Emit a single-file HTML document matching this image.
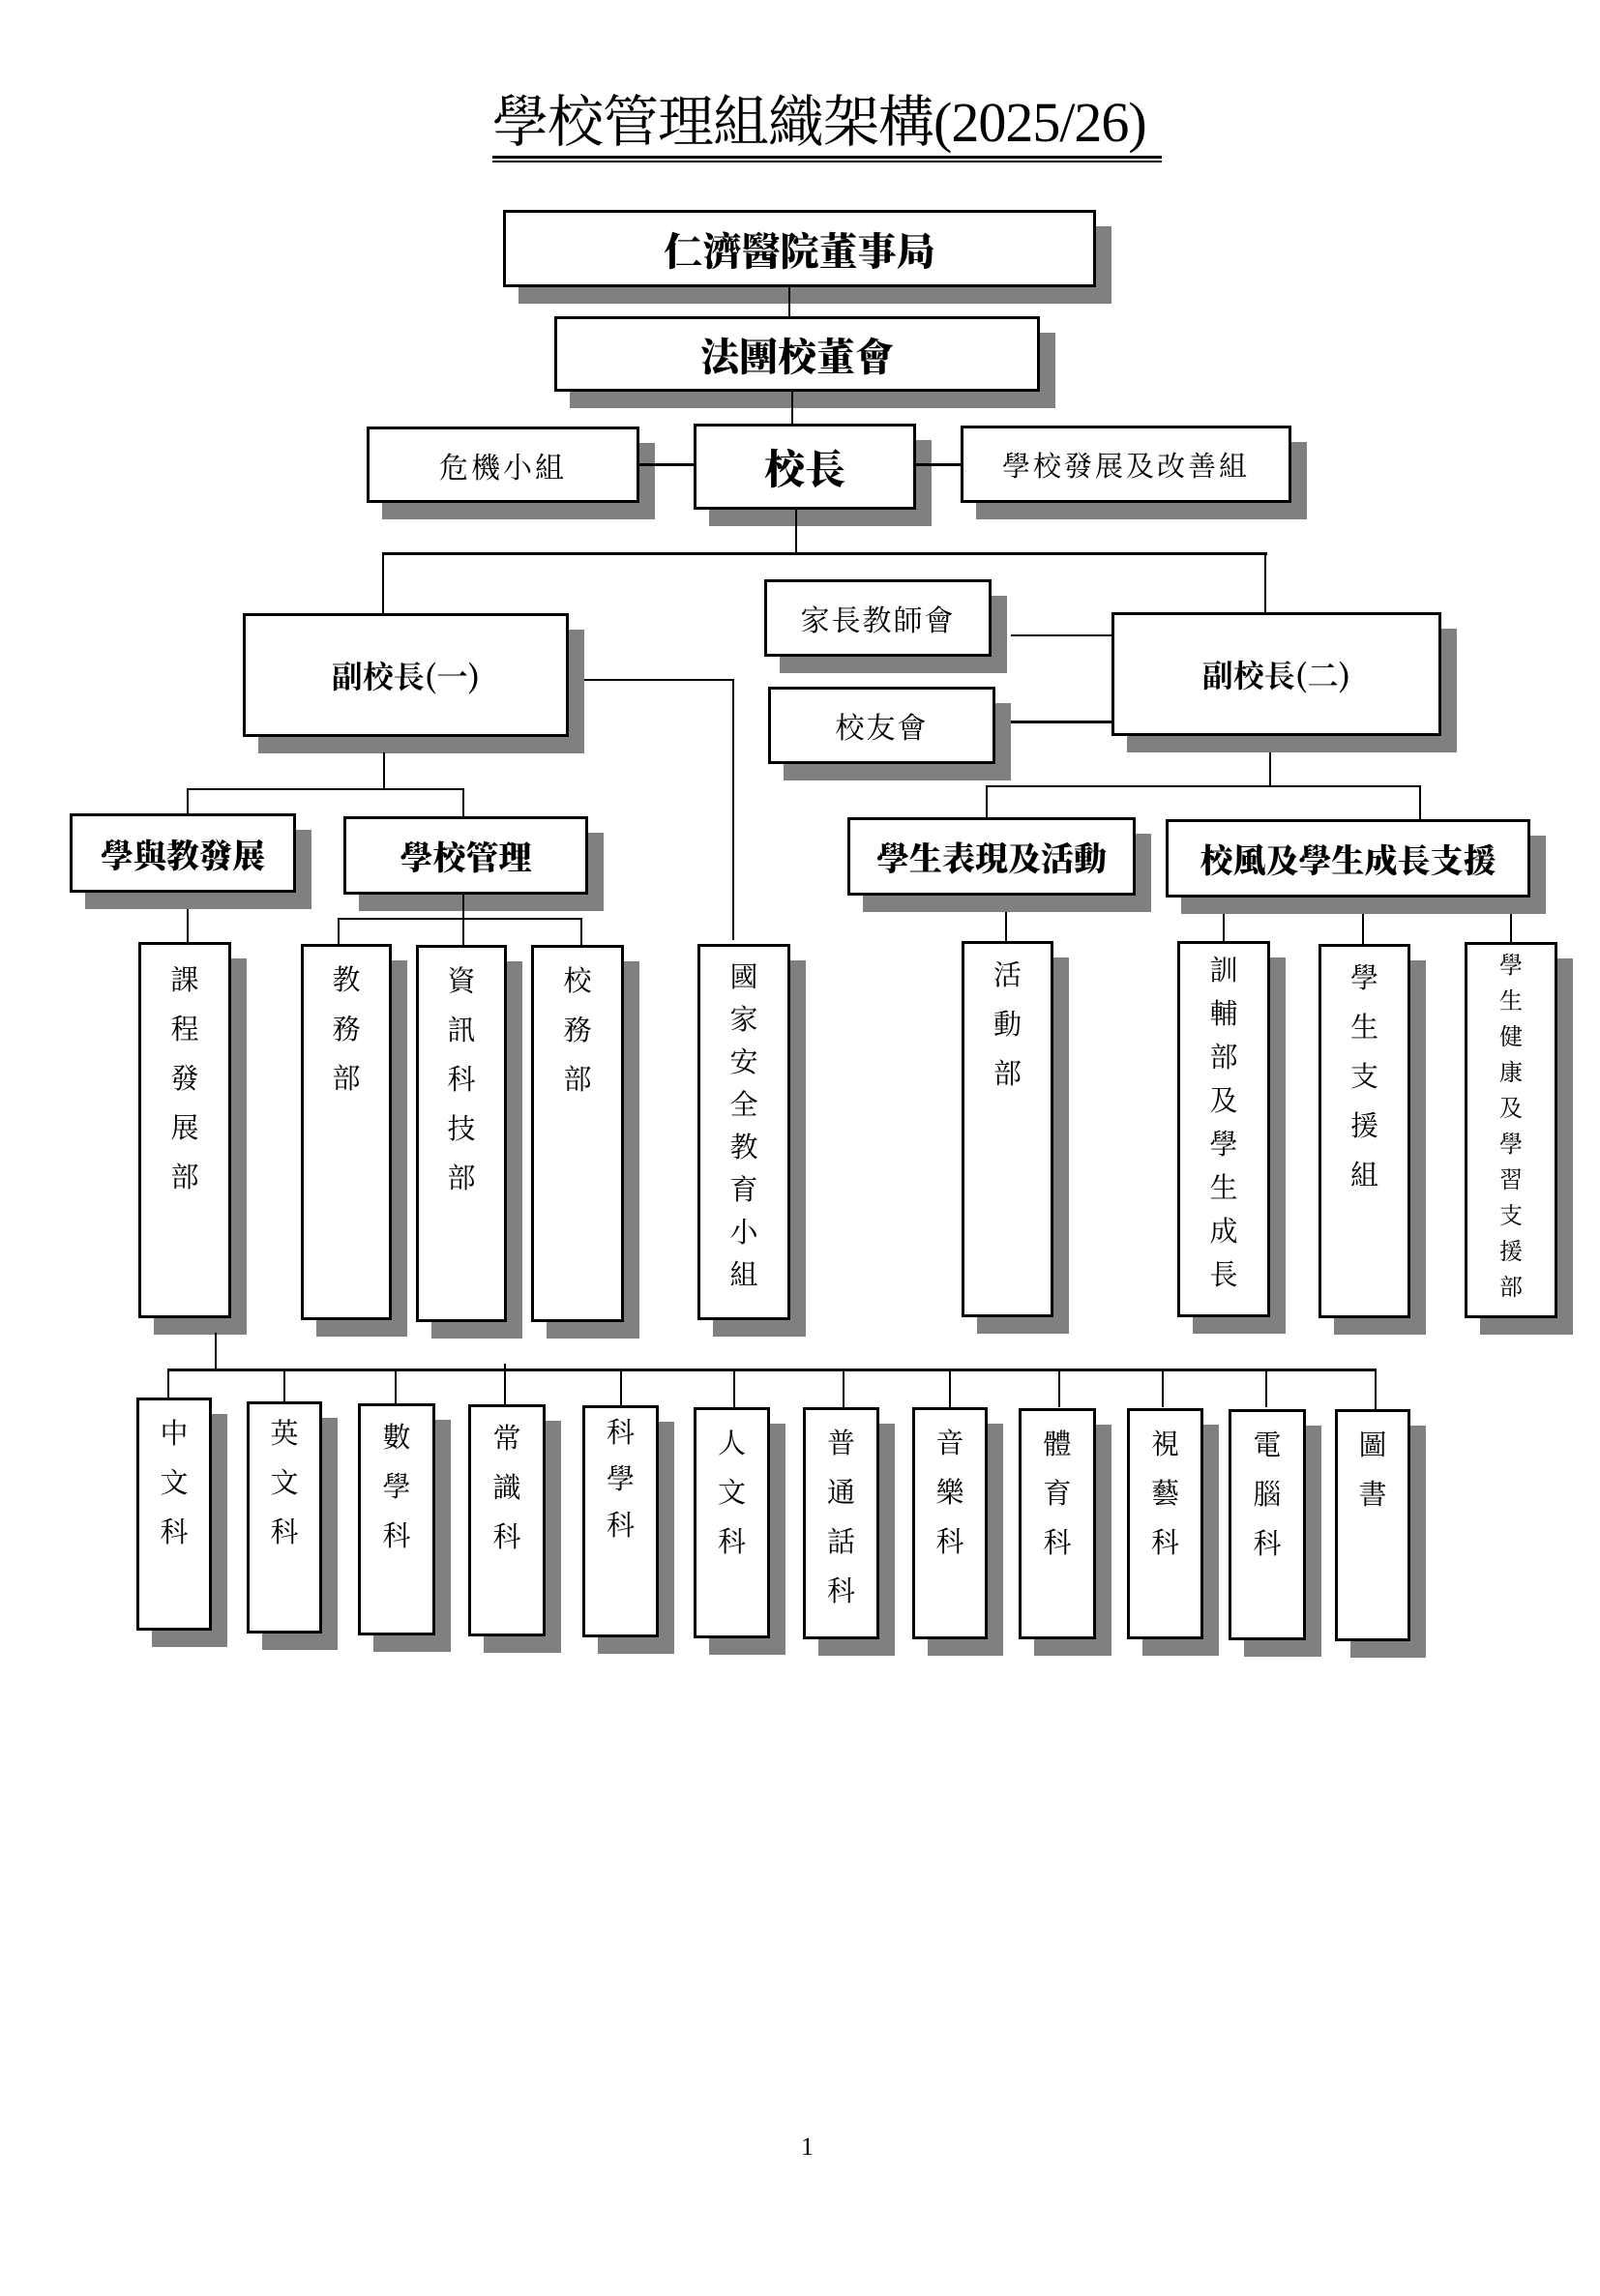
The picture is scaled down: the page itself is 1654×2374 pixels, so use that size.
<!DOCTYPE html>
<html><head><meta charset="utf-8"><style>
body{margin:0;background:#fff}
#p{position:relative;width:1654px;height:2374px;overflow:hidden;background:#fff;font-family:"Liberation Serif","Noto Serif CJK SC",serif}
.b{position:absolute;box-sizing:border-box;border:3px solid #000;background:#fff;box-shadow:16px 17px 0 #808080;display:flex;align-items:center;justify-content:center;color:#000;white-space:nowrap}
.h{font-weight:900;font-family:"Noto Serif CJK SC","Noto Sans CJK TC",serif}
.v{flex-direction:column;justify-content:flex-start;font-size:29px}
.v span{display:block;text-align:center}
.l{position:absolute;background:#000}
</style></head><body><div id="p">
<div style="position:absolute;left:509px;top:92px;font-size:58px;line-height:70px;font-family:'Liberation Serif','Noto Serif CJK SC',serif;letter-spacing:-1px">學校管理組織架構(2025/26)</div>
<div class="l" style="left:509px;top:161px;width:692px;height:3px"></div>
<div class="l" style="left:509px;top:166px;width:692px;height:2px"></div>

<div class="b h" style="left:520px;top:217px;width:613px;height:80px;font-size:40px">仁濟醫院董事局</div>
<div class="l" style="left:815px;top:297px;width:2px;height:30px"></div>
<div class="b h" style="left:573px;top:327px;width:502px;height:78px;font-size:40px">法團校董會</div>
<div class="l" style="left:818px;top:405px;width:2px;height:34px"></div>

<div class="b" style="left:379px;top:441px;width:282px;height:79px;font-size:30px;letter-spacing:3px">危機小組</div>
<div class="b h" style="left:717px;top:438px;width:230px;height:89px;font-size:42px">校長</div>
<div class="b" style="left:993px;top:440px;width:342px;height:80px;font-size:29px;letter-spacing:3px">學校發展及改善組</div>
<div class="l" style="left:661px;top:479px;width:56px;height:3px"></div>
<div class="l" style="left:947px;top:479px;width:46px;height:3px"></div>

<div class="l" style="left:822px;top:527px;width:2px;height:46px"></div>
<div class="l" style="left:396px;top:571px;width:914px;height:3px"></div>
<div class="l" style="left:395px;top:571px;width:2px;height:63px"></div>
<div class="l" style="left:1307px;top:571px;width:2px;height:62px"></div>

<div class="b h" style="left:251px;top:634px;width:337px;height:128px;font-size:32px;font-weight:700">副校長(一)</div>
<div class="l" style="left:604px;top:702px;width:154px;height:2px"></div>
<div class="l" style="left:757px;top:702px;width:2px;height:270px"></div>

<div class="b" style="left:790px;top:599px;width:235px;height:80px;font-size:30px;letter-spacing:2px">家長教師會</div>
<div class="b" style="left:794px;top:710px;width:235px;height:80px;font-size:30px;letter-spacing:2px">校友會</div>
<div class="b h" style="left:1149px;top:633px;width:341px;height:128px;font-size:32px;font-weight:700">副校長(二)</div>
<div class="l" style="left:1045px;top:656px;width:104px;height:2px"></div>
<div class="l" style="left:1045px;top:745px;width:104px;height:3px"></div>

<div class="l" style="left:396px;top:778px;width:2px;height:38px"></div>
<div class="l" style="left:193px;top:815px;width:286px;height:2px"></div>
<div class="l" style="left:193px;top:815px;width:2px;height:26px"></div>
<div class="l" style="left:478px;top:815px;width:2px;height:29px"></div>
<div class="l" style="left:1312px;top:778px;width:2px;height:35px"></div>
<div class="l" style="left:1019px;top:812px;width:450px;height:2px"></div>
<div class="l" style="left:1019px;top:812px;width:2px;height:33px"></div>
<div class="l" style="left:1467px;top:812px;width:2px;height:35px"></div>

<div class="b h" style="left:72px;top:841px;width:234px;height:82px;font-size:34px">學與教發展</div>
<div class="b h" style="left:355px;top:844px;width:253px;height:81px;font-size:34px">學校管理</div>
<div class="b h" style="left:876px;top:845px;width:298px;height:81px;font-size:34px">學生表現及活動</div>
<div class="b h" style="left:1205px;top:847px;width:377px;height:81px;font-size:34px">校風及學生成長支援</div>

<div class="l" style="left:193px;top:940px;width:2px;height:34px"></div>
<div class="l" style="left:478px;top:925px;width:2px;height:52px"></div>
<div class="l" style="left:349px;top:949px;width:253px;height:2px"></div>
<div class="l" style="left:349px;top:949px;width:2px;height:27px"></div>
<div class="l" style="left:600px;top:949px;width:2px;height:28px"></div>
<div class="l" style="left:1039px;top:943px;width:2px;height:30px"></div>
<div class="l" style="left:1264px;top:945px;width:2px;height:28px"></div>
<div class="l" style="left:1408px;top:945px;width:2px;height:31px"></div>
<div class="l" style="left:1561px;top:945px;width:2px;height:31px"></div>

<div class="b v" style="left:143px;top:974px;width:96px;height:389px;padding-top:12px;line-height:51px"><span>課</span><span>程</span><span>發</span><span>展</span><span>部</span></div>
<div class="b v" style="left:311px;top:976px;width:94px;height:389px;padding-top:10px;line-height:51px"><span>教</span><span>務</span><span>部</span></div>
<div class="b v" style="left:430px;top:977px;width:94px;height:390px;padding-top:10px;line-height:51px"><span>資</span><span>訊</span><span>科</span><span>技</span><span>部</span></div>
<div class="b v" style="left:549px;top:977px;width:96px;height:390px;padding-top:10px;line-height:51px"><span>校</span><span>務</span><span>部</span></div>
<div class="b v" style="left:721px;top:976px;width:96px;height:389px;padding-top:10px;line-height:44px"><span>國</span><span>家</span><span>安</span><span>全</span><span>教</span><span>育</span><span>小</span><span>組</span></div>
<div class="b v" style="left:994px;top:973px;width:95px;height:389px;padding-top:8px;line-height:51px"><span>活</span><span>動</span><span>部</span></div>
<div class="b v" style="left:1217px;top:973px;width:96px;height:389px;padding-top:6px;line-height:45px"><span>訓</span><span>輔</span><span>部</span><span>及</span><span>學</span><span>生</span><span>成</span><span>長</span></div>
<div class="b v" style="left:1363px;top:976px;width:95px;height:387px;padding-top:8px;line-height:51px"><span>學</span><span>生</span><span>支</span><span>援</span><span>組</span></div>
<div class="b v" style="left:1514px;top:974px;width:96px;height:389px;padding-top:4px;line-height:37px;font-size:24px"><span>學</span><span>生</span><span>健</span><span>康</span><span>及</span><span>學</span><span>習</span><span>支</span><span>援</span><span>部</span></div>

<div class="l" style="left:222px;top:1378px;width:2px;height:39px"></div>
<div class="l" style="left:174px;top:1415px;width:1249px;height:3px"></div>
<div class="l" style="left:173px;top:1415px;width:2px;height:30px"></div>
<div class="l" style="left:293px;top:1415px;width:2px;height:34px"></div>
<div class="l" style="left:408px;top:1415px;width:2px;height:36px"></div>
<div class="l" style="left:521px;top:1410px;width:2px;height:42px"></div>
<div class="l" style="left:641px;top:1415px;width:2px;height:38px"></div>
<div class="l" style="left:758px;top:1415px;width:2px;height:40px"></div>
<div class="l" style="left:871px;top:1415px;width:2px;height:40px"></div>
<div class="l" style="left:981px;top:1415px;width:2px;height:40px"></div>
<div class="l" style="left:1094px;top:1415px;width:2px;height:40px"></div>
<div class="l" style="left:1201px;top:1415px;width:2px;height:40px"></div>
<div class="l" style="left:1308px;top:1415px;width:2px;height:40px"></div>
<div class="l" style="left:1421px;top:1415px;width:2px;height:42px"></div>

<div class="b v" style="left:141px;top:1445px;width:78px;height:241px;padding-top:10px;line-height:51px"><span>中</span><span>文</span><span>科</span></div>
<div class="b v" style="left:255px;top:1449px;width:78px;height:240px;padding-top:6px;line-height:51px"><span>英</span><span>文</span><span>科</span></div>
<div class="b v" style="left:370px;top:1451px;width:80px;height:240px;padding-top:8px;line-height:51px"><span>數</span><span>學</span><span>科</span></div>
<div class="b v" style="left:484px;top:1452px;width:80px;height:240px;padding-top:8px;line-height:51px"><span>常</span><span>識</span><span>科</span></div>
<div class="b v" style="left:602px;top:1453px;width:79px;height:240px;padding-top:2px;line-height:48px"><span>科</span><span>學</span><span>科</span></div>
<div class="b v" style="left:717px;top:1455px;width:79px;height:239px;padding-top:10px;line-height:51px"><span>人</span><span>文</span><span>科</span></div>
<div class="b v" style="left:830px;top:1455px;width:79px;height:240px;padding-top:10px;line-height:51px"><span>普</span><span>通</span><span>話</span><span>科</span></div>
<div class="b v" style="left:943px;top:1455px;width:78px;height:240px;padding-top:10px;line-height:51px"><span>音</span><span>樂</span><span>科</span></div>
<div class="b v" style="left:1053px;top:1456px;width:80px;height:239px;padding-top:10px;line-height:51px"><span>體</span><span>育</span><span>科</span></div>
<div class="b v" style="left:1165px;top:1456px;width:79px;height:239px;padding-top:10px;line-height:51px"><span>視</span><span>藝</span><span>科</span></div>
<div class="b v" style="left:1270px;top:1457px;width:80px;height:239px;padding-top:10px;line-height:51px"><span>電</span><span>腦</span><span>科</span></div>
<div class="b v" style="left:1380px;top:1457px;width:78px;height:240px;padding-top:10px;line-height:51px"><span>圖</span><span>書</span></div>

<div style="position:absolute;left:828px;top:2205px;font-size:26px;line-height:30px">1</div>
</div></body></html>
